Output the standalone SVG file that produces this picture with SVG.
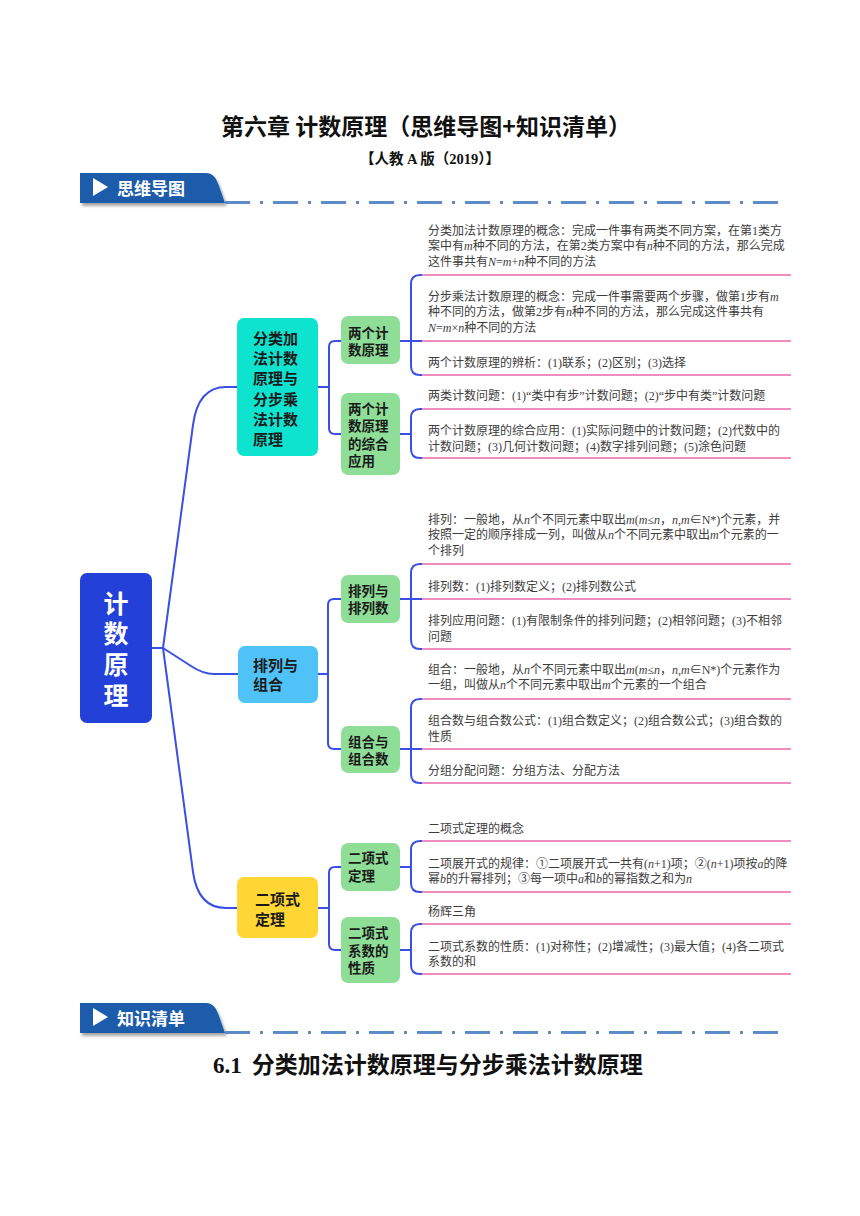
<svg xmlns="http://www.w3.org/2000/svg" width="860" height="1216" viewBox="0 0 860 1216">
<defs>
<filter id="sh" x="-10%" y="-20%" width="130%" height="160%">
<feGaussianBlur in="SourceAlpha" stdDeviation="1.6"/>
<feOffset dx="2" dy="3" result="b"/>
<feComponentTransfer><feFuncA type="linear" slope="0.35"/></feComponentTransfer>
<feMerge><feMergeNode/><feMergeNode in="SourceGraphic"/></feMerge>
</filter>
</defs>
<style>
.t{font-family:"Liberation Serif","Noto Sans CJK SC",sans-serif;font-size:12px;fill:#3d3d3d}
.v{font-style:italic}
.nb{font-family:"Noto Sans CJK SC",sans-serif;font-weight:700;fill:#1a1a1a}
.n15{font-size:15px}
.n13{font-size:13.5px}
.conn{fill:none;stroke:#3a4fe4;stroke-width:2;stroke-linecap:round;stroke-linejoin:round}
.ul{stroke:#f08dc0;stroke-width:1.8}
.sub{fill:#8fde98}
.ban{fill:#1b5bab}
.bt{font-family:"Noto Sans CJK SC",sans-serif;font-weight:700;font-size:17px;fill:#ffffff}
.dd{stroke:#5b8cc8;stroke-width:3;stroke-dasharray:25 10 3 10;fill:none}
</style>
<rect width="860" height="1216" fill="#ffffff"/>

<g id="header">
<text x="426" y="134.5" text-anchor="middle" style="font-family:'Noto Sans CJK SC',sans-serif;font-weight:700;font-size:23px;fill:#111">第六章 计数原理（思维导图+知识清单）</text>
<text x="430" y="163.5" text-anchor="middle" style="font-family:'Liberation Serif','Noto Sans CJK SC',serif;font-weight:700;font-size:14.5px;fill:#111">【人教 A 版（2019）】</text>
</g>

<g id="banner1">
<path class="ban" filter="url(#sh)" d="M80,173 H206 C213,173 216,178 219,186 L225,203 H80 Z"/>
<polygon points="93,178 93,196 108,187" fill="#ffffff"/>
<text class="bt" x="117" y="194.5">思维导图</text>
<line class="dd" x1="225" y1="202.5" x2="782" y2="202.5"/>
</g>

<g id="connectors">
<path class="conn" d="M152,648 H163"/>
<path class="conn" d="M163,648 L193,425 Q198,387 226,387 H237"/>
<path class="conn" d="M163,648 L191,666 Q203,674 214,674 H238"/>
<path class="conn" d="M163,648 L193,872 Q198,908 226,908 H237"/>
<path class="conn" d="M318,387 H329 M341,341 H335 Q329,341 329,347 V428 Q329,434 335,434 H341"/>
<path class="conn" d="M318,674 H328 M341,599 H334 Q328,599 328,605 V743 Q328,749 334,749 H341"/>
<path class="conn" d="M318,908 H329 M341,867 H335 Q329,867 329,873 V944 Q329,950 335,950 H341"/>
<path class="conn" d="M400,341 H422 M422,275 H420 Q411,275 411,284 V366 Q411,375 420,375 H422"/>
<path class="conn" d="M400,434 H411 M422,409 H420 Q411,409 411,418 V449 Q411,458 420,458 H422"/>
<path class="conn" d="M400,599 H422 M422,564 H420 Q411,564 411,573 V640 Q411,649 420,649 H422"/>
<path class="conn" d="M400,749 H422 M422,699 H420 Q411,699 411,708 V774 Q411,783 420,783 H422"/>
<path class="conn" d="M400,867 H411 M422,841 H420 Q411,841 411,850 V883 Q411,892 420,892 H422"/>
<path class="conn" d="M400,950 H411 M422,924 H420 Q411,924 411,933 V965 Q411,974 420,974 H422"/>
</g>

<g id="root">
<rect x="80" y="573" width="72" height="150" rx="7" fill="#2340d8"/>
<text text-anchor="middle" style="font-family:'Noto Sans CJK SC',sans-serif;font-weight:700;font-size:25px;fill:#ffffff"><tspan x="116" y="612.5">计</tspan><tspan x="116" y="642.5">数</tspan><tspan x="116" y="673.5">原</tspan><tspan x="116" y="704.5">理</tspan></text>
</g>

<g id="branch-fenlei">
<rect x="237" y="318" width="81" height="138" rx="7" fill="#0de3cf"/>
<text class="nb n15"><tspan x="253" y="343.6">分类加</tspan><tspan x="253" y="363.9">法计数</tspan><tspan x="253" y="384.2">原理与</tspan><tspan x="253" y="404.6">分步乘</tspan><tspan x="253" y="424.9">法计数</tspan><tspan x="253" y="445.2">原理</tspan></text>
</g>

<g id="branch-pailie">
<rect x="238" y="646" width="80" height="57" rx="7" fill="#4fc3f7"/>
<text class="nb n15"><tspan x="253" y="670.6">排列与</tspan><tspan x="253" y="689.6">组合</tspan></text>
</g>

<g id="branch-erxiang">
<rect x="237" y="877" width="81" height="61" rx="7" fill="#ffd633"/>
<text class="nb n15"><tspan x="255" y="904.6">二项式</tspan><tspan x="255" y="924.6">定理</tspan></text>
</g>

<g id="sub-liangge">
<rect class="sub" x="341" y="316" width="59" height="48" rx="7"/>
<text class="nb n13"><tspan x="348" y="338.1">两个计</tspan><tspan x="348" y="355.1">数原理</tspan></text>
</g>
<g id="sub-zonghe">
<rect class="sub" x="341" y="393" width="59" height="82" rx="7"/>
<text class="nb n13"><tspan x="348" y="413.6">两个计</tspan><tspan x="348" y="431.1">数原理</tspan><tspan x="348" y="448.6">的综合</tspan><tspan x="348" y="466.1">应用</tspan></text>
</g>
<g id="sub-pailieshu">
<rect class="sub" x="341" y="575" width="59" height="48" rx="7"/>
<text class="nb n13"><tspan x="348" y="596.1">排列与</tspan><tspan x="348" y="613.1">排列数</tspan></text>
</g>
<g id="sub-zuheshu">
<rect class="sub" x="341" y="726" width="59" height="47" rx="7"/>
<text class="nb n13"><tspan x="348" y="747.1">组合与</tspan><tspan x="348" y="764.1">组合数</tspan></text>
</g>
<g id="sub-erxiangdingli">
<rect class="sub" x="341" y="843" width="59" height="48" rx="7"/>
<text class="nb n13"><tspan x="348" y="863.1">二项式</tspan><tspan x="348" y="881.1">定理</tspan></text>
</g>
<g id="sub-xishu">
<rect class="sub" x="341" y="917" width="59" height="66" rx="7"/>
<text class="nb n13"><tspan x="348" y="938.1">二项式</tspan><tspan x="348" y="956.1">系数的</tspan><tspan x="348" y="973.1">性质</tspan></text>
</g>

<g id="leaf-a">
<text class="t"><tspan x="428" y="234.5">分类加法计数原理的概念：完成一件事有两类不同方案，在第1类方</tspan><tspan x="428" y="250">案中有<tspan class="v">m</tspan>种不同的方法，在第2类方案中有<tspan class="v">n</tspan>种不同的方法，那么完成</tspan><tspan x="428" y="265.5">这件事共有<tspan class="v">N</tspan>=<tspan class="v">m</tspan>+<tspan class="v">n</tspan>种不同的方法</tspan></text>
<line class="ul" x1="422" y1="275" x2="791" y2="275"/>
</g>
<g id="leaf-b">
<text class="t"><tspan x="428" y="300.5">分步乘法计数原理的概念：完成一件事需要两个步骤，做第1步有<tspan class="v">m</tspan></tspan><tspan x="428" y="316">种不同的方法，做第2步有<tspan class="v">n</tspan>种不同的方法，那么完成这件事共有</tspan><tspan x="428" y="331.5"><tspan class="v">N</tspan>=<tspan class="v">m</tspan>×<tspan class="v">n</tspan>种不同的方法</tspan></text>
<line class="ul" x1="422" y1="341" x2="791" y2="341"/>
</g>
<g id="leaf-c">
<text class="t" x="428" y="367">两个计数原理的辨析：(1)联系；(2)区别；(3)选择</text>
<line class="ul" x1="422" y1="375" x2="791" y2="375"/>
</g>
<g id="leaf-d">
<text class="t" x="428" y="399.5">两类计数问题：(1)“类中有步”计数问题；(2)“步中有类”计数问题</text>
<line class="ul" x1="422" y1="409" x2="791" y2="409"/>
</g>
<g id="leaf-e">
<text class="t"><tspan x="428" y="434.5">两个计数原理的综合应用：(1)实际问题中的计数问题；(2)代数中的</tspan><tspan x="428" y="450.5">计数问题；(3)几何计数问题；(4)数字排列问题；(5)涂色问题</tspan></text>
<line class="ul" x1="422" y1="458" x2="791" y2="458"/>
</g>

<g id="leaf-f">
<text class="t"><tspan x="428" y="523.5">排列：一般地，从<tspan class="v">n</tspan>个不同元素中取出<tspan class="v">m</tspan>(<tspan class="v">m</tspan>≤<tspan class="v">n</tspan>，<tspan class="v">n</tspan>,<tspan class="v">m</tspan>∈N*)个元素，并</tspan><tspan x="428" y="538.5">按照一定的顺序排成一列，叫做从<tspan class="v">n</tspan>个不同元素中取出<tspan class="v">m</tspan>个元素的一</tspan><tspan x="428" y="555">个排列</tspan></text>
<line class="ul" x1="422" y1="564" x2="791" y2="564"/>
</g>
<g id="leaf-g">
<text class="t" x="428" y="590.5">排列数：(1)排列数定义；(2)排列数公式</text>
<line class="ul" x1="422" y1="599" x2="791" y2="599"/>
</g>
<g id="leaf-h">
<text class="t"><tspan x="428" y="624.5">排列应用问题：(1)有限制条件的排列问题；(2)相邻问题；(3)不相邻</tspan><tspan x="428" y="640.5">问题</tspan></text>
<line class="ul" x1="422" y1="649" x2="791" y2="649"/>
</g>
<g id="leaf-i">
<text class="t"><tspan x="428" y="673.5">组合：一般地，从<tspan class="v">n</tspan>个不同元素中取出<tspan class="v">m</tspan>(<tspan class="v">m</tspan>≤<tspan class="v">n</tspan>，<tspan class="v">n</tspan>,<tspan class="v">m</tspan>∈N*)个元素作为</tspan><tspan x="428" y="688.5">一组，叫做从<tspan class="v">n</tspan>个不同元素中取出<tspan class="v">m</tspan>个元素的一个组合</tspan></text>
<line class="ul" x1="422" y1="699" x2="791" y2="699"/>
</g>
<g id="leaf-j">
<text class="t"><tspan x="428" y="724.5">组合数与组合数公式：(1)组合数定义；(2)组合数公式；(3)组合数的</tspan><tspan x="428" y="740.5">性质</tspan></text>
<line class="ul" x1="422" y1="749" x2="791" y2="749"/>
</g>
<g id="leaf-k">
<text class="t" x="428" y="775">分组分配问题：分组方法、分配方法</text>
<line class="ul" x1="422" y1="783" x2="791" y2="783"/>
</g>

<g id="leaf-l">
<text class="t" x="428" y="832.5">二项式定理的概念</text>
<line class="ul" x1="422" y1="841" x2="791" y2="841"/>
</g>
<g id="leaf-m">
<text class="t"><tspan x="428" y="867.5">二项展开式的规律：①二项展开式一共有(<tspan class="v">n</tspan>+1)项；②(<tspan class="v">n</tspan>+1)项按<tspan class="v">a</tspan>的降</tspan><tspan x="428" y="882.5">幂<tspan class="v">b</tspan>的升幂排列；③每一项中<tspan class="v">a</tspan>和<tspan class="v">b</tspan>的幂指数之和为<tspan class="v">n</tspan></tspan></text>
<line class="ul" x1="422" y1="892" x2="791" y2="892"/>
</g>
<g id="leaf-n">
<text class="t" x="428" y="916">杨辉三角</text>
<line class="ul" x1="422" y1="924" x2="791" y2="924"/>
</g>
<g id="leaf-o">
<text class="t"><tspan x="428" y="951">二项式系数的性质：(1)对称性；(2)增减性；(3)最大值；(4)各二项式</tspan><tspan x="428" y="966">系数的和</tspan></text>
<line class="ul" x1="422" y1="974" x2="791" y2="974"/>
</g>

<g id="banner2">
<path class="ban" filter="url(#sh)" d="M80,1003 H206 C213,1003 216,1008 219,1016 L225,1033 H80 Z"/>
<polygon points="93,1008 93,1026 108,1017" fill="#ffffff"/>
<text class="bt" x="117" y="1024.5">知识清单</text>
<line class="dd" x1="225" y1="1032.5" x2="782" y2="1032.5"/>
</g>

<g id="section-title">
<text x="213" y="1072.5" style="font-weight:700;font-size:23px;fill:#111"><tspan style="font-family:'Liberation Serif',serif">6.1</tspan><tspan dx="10" style="font-family:'Noto Sans CJK SC',sans-serif">分类加法计数原理与分步乘法计数原理</tspan></text>
</g>
</svg>
